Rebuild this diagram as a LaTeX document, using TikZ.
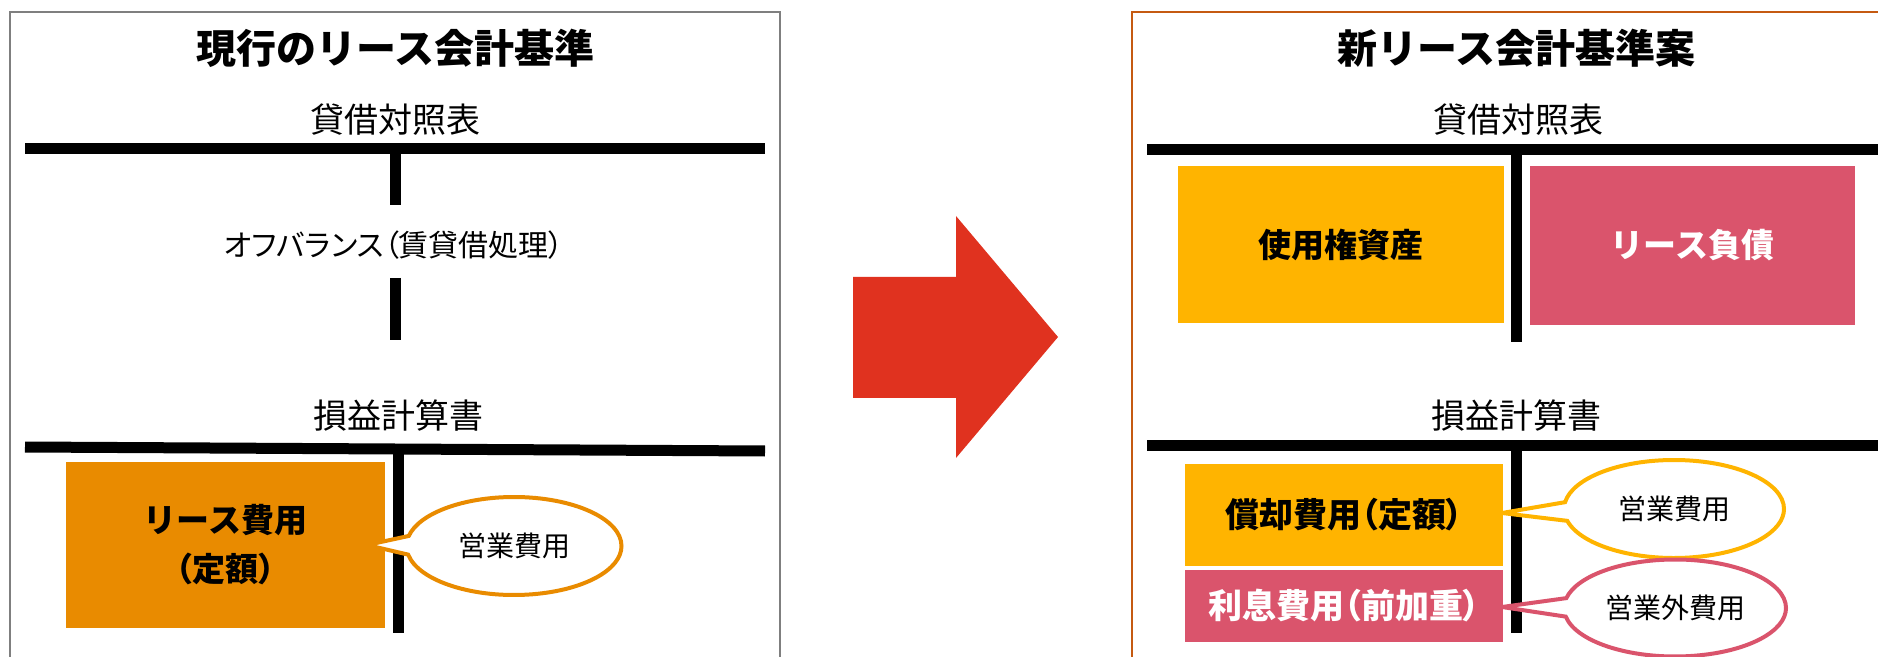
\documentclass[tikz,border=0pt]{standalone}
\usepackage{fontspec}
\setmainfont{Noto Sans CJK JP}
\newfontfamily\jpp{Noto Sans CJK JP}[RawFeature=+palt]
\usetikzlibrary{shapes.callouts}
\definecolor{frameL}{HTML}{7F7F7F}
\definecolor{frameR}{HTML}{C55A11}
\definecolor{orangeB}{HTML}{E98B00}
\definecolor{yellowB}{HTML}{FFB400}
\definecolor{pinkB}{HTML}{DA546C}
\definecolor{arrowR}{HTML}{E0321F}
\begin{document}
\begin{tikzpicture}[x=0.5pt,y=-0.5pt,
  bar/.style={line width=5.5pt},
  frame/.style={line width=1pt},
  ttl/.style={inner sep=0pt, font=\fontsize{20}{24}\selectfont\bfseries},
  hdr/.style={inner sep=0pt, font=\fontsize{17}{20}\selectfont},
  boxn/.style={inner sep=0pt, align=center, font=\fontsize{16.5}{24.5}\selectfont\bfseries},
  bubble/.style={ellipse callout, draw, fill=white, line width=2pt, inner sep=0pt,
     callout pointer arc=22, font=\fontsize{14}{16}\selectfont}
]
\useasboundingbox (0,0) rectangle (1878,657);
\clip (0,0) rectangle (1878,657);

% frames
\draw[frame, frameL] (10,670) -- (10,12) -- (780,12) -- (780,670);
\draw[frame, frameR] (1132,670) -- (1132,12) -- (1890,12);

% ===== left panel =====
\node[ttl] (tl) at (395,48) {現行のリース会計基準};
\node[hdr] (bsL) at (395,120) {貸借対照表};
\draw[bar] (25,149) -- (765,149);
\draw[bar] (395,149) -- (395,205);
\node[inner sep=0pt, font=\fontsize{15}{17}\selectfont\jpp] (off) at (394,245) {オフバランス（賃貸借処理）};
\draw[bar] (395,278) -- (395,340);

\node[hdr] (plL) at (398,416) {損益計算書};
\draw[bar] (25,447) -- (765,451);
\draw[bar] (398,449) -- (398,633);
\node[boxn, fill=orangeB, minimum width=159.5pt, minimum height=83pt] (lease) at (225.5,545) {リース費用\\{\jpp （定額）}};
\node[bubble, draw=orangeB, minimum width=107.5pt, minimum height=49pt,
  callout absolute pointer={(367,545)}] (opL) at (514,546) {営業費用};

% ===== arrow =====
\fill[arrowR] (853,277) -- (956,277) -- (956,216) -- (1058,337) -- (956,458) -- (956,398) -- (853,398) -- cycle;

% ===== right panel =====
\node[ttl] (tr) at (1516,48) {新リース会計基準案};
\node[hdr] (bsR) at (1518,120) {貸借対照表};
\draw[bar] (1147,150) -- (1890,150);
\draw[bar] (1516,150) -- (1516,342);
\node[boxn, fill=yellowB, minimum width=163pt, minimum height=78.5pt] (rou) at (1341,244.5) {使用権資産};
\node[boxn, fill=pinkB, text=white, minimum width=162.5pt, minimum height=79.5pt] (liab) at (1692.5,245.5) {リース負債};

\node[hdr] (plR) at (1516,416) {損益計算書};
\draw[bar] (1147,445) -- (1890,445);
\draw[bar] (1516,445) -- (1516,633);
\node[boxn, fill=yellowB, minimum width=159pt, minimum height=51pt] (dep) at (1344,515) {\fontsize{17}{20}\selectfont\jpp 償却費用（定額）};
\node[boxn, fill=pinkB, text=white, minimum width=159pt, minimum height=36pt] (int) at (1344,606) {\fontsize{17}{20}\selectfont\jpp 利息費用（前加重）};
\node[bubble, draw=yellowB, minimum width=110pt, minimum height=49pt,
  callout absolute pointer={(1502,513)}] (opR) at (1674,509) {営業費用};
\node[bubble, draw=pinkB, minimum width=111pt, minimum height=48.5pt,
  callout absolute pointer={(1502,607)}] (nopR) at (1675,608) {営業外費用};
\end{tikzpicture}
\end{document}
